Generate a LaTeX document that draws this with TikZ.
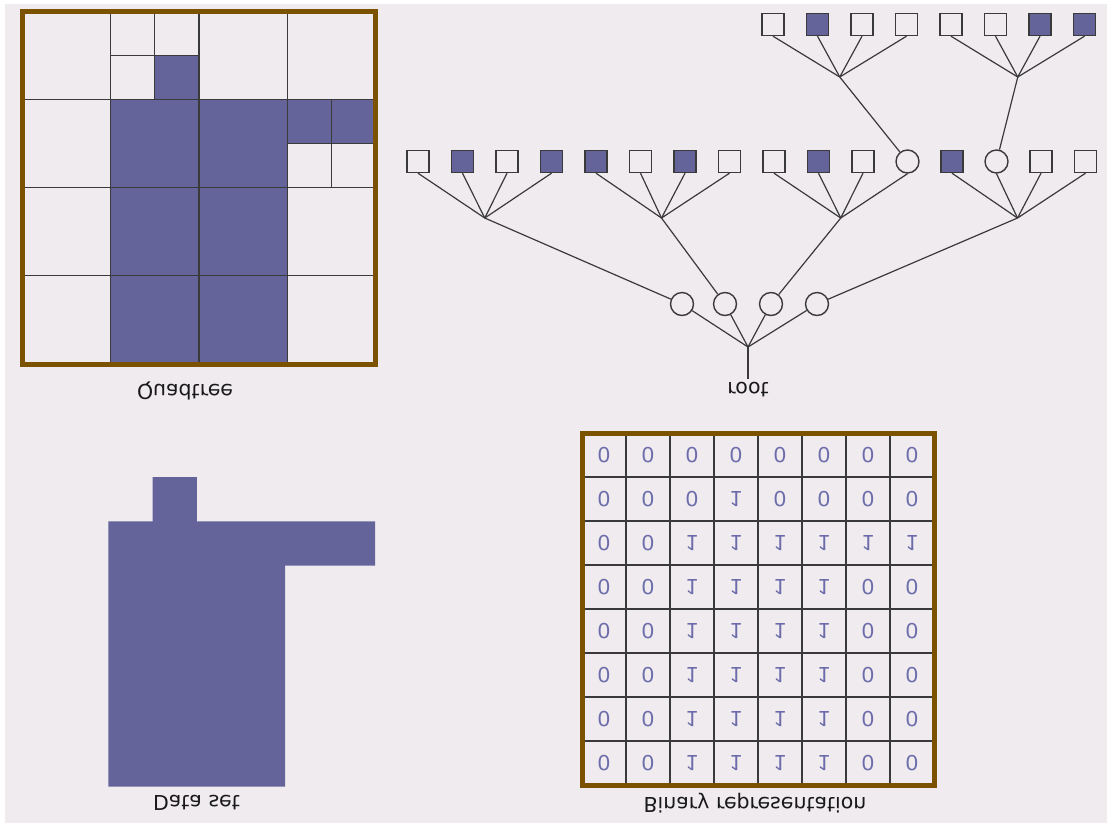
\documentclass[tikz,border=0pt]{standalone}
\usepackage{fontspec}
\setmainfont{DejaVu Sans}
\newfontfamily\digitfont{Liberation Sans}
\definecolor{bgcol}{RGB}{239,235,239}
\definecolor{purp}{RGB}{100,100,155}
\definecolor{framecol}{RGB}{122,82,0}
\definecolor{linecol}{RGB}{58,58,58}
\definecolor{digitcol}{RGB}{108,108,170}
\definecolor{labelcol}{RGB}{25,25,25}
\begin{document}
\begin{tikzpicture}[x=1pt,y=1pt,yscale=-1,
  gridline/.style={draw=linecol,line width=1.1pt},
  framebox/.style={draw=framecol,line width=5pt},
  sq/.style={draw=linecol,line width=1.4pt,minimum size=22pt,inner sep=0pt,fill=bgcol},
  sqf/.style={sq,fill=purp},
  circ/.style={circle,draw=linecol,line width=1.4pt,minimum size=23pt,inner sep=0pt,fill=bgcol},
  edge/.style={draw=linecol,line width=1.2pt},
  lbl/.style={transform shape,font=\fontsize{20.5}{24}\selectfont,text=labelcol,inner sep=2pt},
  digit/.style={transform shape,font=\digitfont\fontsize{22}{24}\selectfont,text=digitcol,inner sep=0pt}]
% background
\fill[white] (0,0) rectangle (1107,823);
\fill[bgcol] (5,4) rectangle (1107,823);

% ---------------- Quadtree ----------------
\fill[purp] (110.75,99.25) rectangle (287.25,364);
\fill[purp] (154.9,55.1) rectangle (199,99.25);
\fill[purp] (287.25,99.25) rectangle (375.5,143.4);
\foreach \x in {110.75,199,287.25} \draw[gridline] (\x,11) -- (\x,364);
\foreach \y in {99.25,187.5,275.75} \draw[gridline] (22.5,\y) -- (375.5,\y);
\draw[gridline] (154.9,11) -- (154.9,99.25);
\draw[gridline] (110.75,55.1) -- (199,55.1);
\draw[gridline] (331.4,99.25) -- (331.4,187.5);
\draw[gridline] (287.25,143.4) -- (375.5,143.4);
\draw[framebox] (22.5,11) rectangle (375.5,364.5);
\node[lbl] (qlabel) at (185,391) {Quadtree};

% ---------------- Data set ----------------
\fill[purp] (108.4,786.6) -- (108.4,521.4) -- (152.6,521.4) -- (152.6,477.2)
  -- (196.8,477.2) -- (196.8,521.4) -- (375,521.4) -- (375,565.6)
  -- (285.2,565.6) -- (285.2,786.6) -- cycle;
\node[lbl] (dlabel) at (196.5,802.5) {Data set};

% ---------------- Binary representation ----------------
\foreach \k in {1,...,7} {
  \draw[gridline] ({582+44*\k},433) -- ({582+44*\k},785);
  \draw[gridline] (582,{433+44*\k}) -- (934,{433+44*\k});
}
\draw[framebox] (582,433) rectangle (934,785.5);
\foreach \row [count=\j] in {{0,0,0,0,0,0,0,0},{0,0,0,1,0,0,0,0},{0,0,1,1,1,1,1,1},
  {0,0,1,1,1,1,0,0},{0,0,1,1,1,1,0,0},{0,0,1,1,1,1,0,0},{0,0,1,1,1,1,0,0},{0,0,1,1,1,1,0,0}}
  \foreach \v [count=\i] in \row
    \node[digit] (d\j-\i) at ({582+44*(\i-0.5)},{433+44*(\j-0.5)}) {\v};
\node[lbl] (blabel) at (755,803) {Binary representation};

% ---------------- Tree ----------------
% top row
\node[sq]  (s1) at (773,24.5) {};
\node[sqf] (s2) at (817.5,24.5) {};
\node[sq]  (s3) at (862,24.5) {};
\node[sq]  (s4) at (906.5,24.5) {};
\node[sq]  (s5) at (951,24.5) {};
\node[sq]  (s6) at (995.5,24.5) {};
\node[sqf] (s7) at (1040,24.5) {};
\node[sqf] (s8) at (1084.5,24.5) {};
% second row
\node[sq]   (b1)  at (418,161.5) {};
\node[sqf]  (b2)  at (462.5,161.5) {};
\node[sq]   (b3)  at (507,161.5) {};
\node[sqf]  (b4)  at (551.5,161.5) {};
\node[sqf]  (b5)  at (596,161.5) {};
\node[sq]   (b6)  at (640.5,161.5) {};
\node[sqf]  (b7)  at (685,161.5) {};
\node[sq]   (b8)  at (729.5,161.5) {};
\node[sq]   (b9)  at (774,161.5) {};
\node[sqf]  (b10) at (818.5,161.5) {};
\node[sq]   (b11) at (863,161.5) {};
\node[circ] (b12) at (907.5,161.5) {};
\node[sqf]  (b13) at (952,161.5) {};
\node[circ] (b14) at (996.5,161.5) {};
\node[sq]   (b15) at (1041,161.5) {};
\node[sq]   (b16) at (1085.5,161.5) {};
% junctions
\coordinate (t1) at (839.75,77);
\coordinate (t2) at (1017.75,77);
\coordinate (j1) at (484.75,218);
\coordinate (j2) at (661.5,218);
\coordinate (j3) at (840.75,218);
\coordinate (j4) at (1017.5,218);
\coordinate (r) at (748,347);
% level-1 circles
\node[circ] (c1) at (682,304) {};
\node[circ] (c2) at (725,304) {};
\node[circ] (c3) at (771,304) {};
\node[circ] (c4) at (817,304) {};
\node[lbl,inner sep=3pt] (rootlbl) at (748,390) {root};
% edges
\foreach \m in {1,...,4} \draw[edge] (s\m.south) -- (t1);
\foreach \m in {5,...,8} \draw[edge] (s\m.south) -- (t2);
\draw[edge] (t1) -- (b12);
\draw[edge] (t2) -- (b14);
\foreach \k in {1,...,4}
  \foreach \m in {1,...,4} {
    \pgfmathtruncatemacro\n{4*(\k-1)+\m}
    \draw[edge] (b\n.south) -- (j\k);
  }
\foreach \k in {1,...,4} {
  \draw[edge] (j\k) -- (c\k);
  \draw[edge] (c\k) -- (r);
}
\draw[edge] (r) -- (rootlbl);
\end{tikzpicture}
\end{document}
